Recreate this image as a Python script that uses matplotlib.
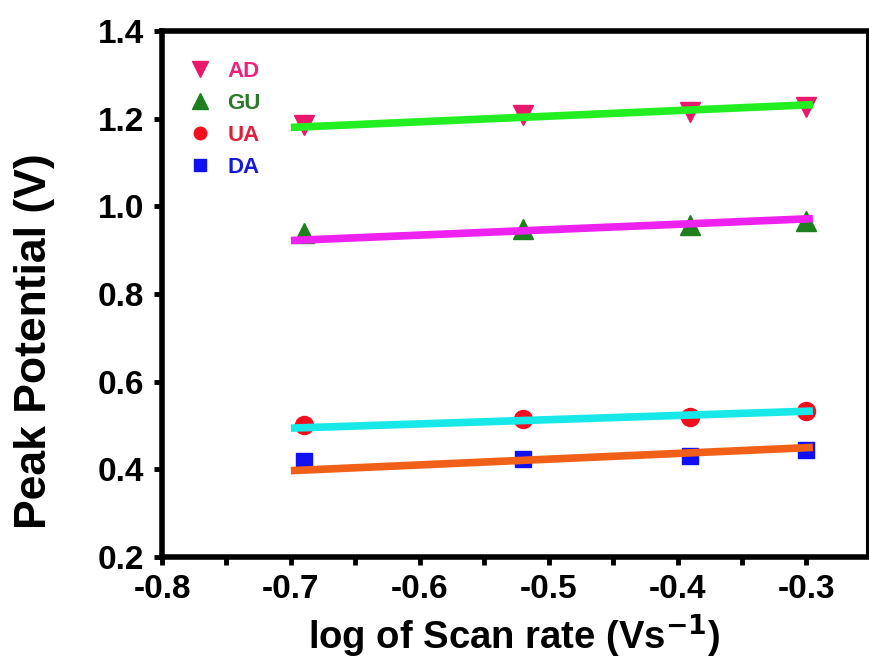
import matplotlib
matplotlib.use("Agg")
import matplotlib.pyplot as plt
from matplotlib.lines import Line2D
from matplotlib.ticker import MultipleLocator

plt.rcParams['font.family'] = ['Liberation Sans', 'DejaVu Sans']
plt.rcParams['font.weight'] = 'bold'
plt.rcParams['mathtext.default'] = 'bf'

# data
log_scan_rate = [-0.69, -0.52, -0.39, -0.30]
AD = [1.186, 1.209, 1.216, 1.226]
GU = [0.940, 0.949, 0.958, 0.966]
UA = [0.501, 0.514, 0.520, 0.532]
DA = [0.418, 0.424, 0.431, 0.443]

# fitted lines (end points)
fit_x = [-0.70, -0.295]
fit_AD = [1.180, 1.232]
fit_GU = [0.922, 0.972]
fit_UA = [0.494, 0.533]
fit_DA = [0.397, 0.450]

series_names = ['AD', 'GU', 'UA', 'DA']
x_tick_labels = ['-0.8', '-0.7', '-0.6', '-0.5', '-0.4', '-0.3']
y_tick_labels = ['0.2', '0.4', '0.6', '0.8', '1.0', '1.2', '1.4']

marker_colors = ['#E8196A', '#1E7F1E', '#F01020', '#1010F0']
text_colors = ['#F0207E', '#2A7A2A', '#E0203A', '#1818D8']
line_colors = ['#22EE22', '#EE22EE', '#18E8E8', '#F06018']
markers = ['v', '^', 'o', 's']
msizes = [15, 15, 13, 11]
leg_msizes = [11, 11, 9, 8]

fig = plt.figure(figsize=(8.7, 6.64), dpi=100)
ax = fig.add_axes([162/870, 107/664, 705/870, 526/664])

series = [AD, GU, UA, DA]
fits = [fit_AD, fit_GU, fit_UA, fit_DA]
for vals, mk, mc, ms in zip(series, markers, marker_colors, msizes):
    ax.plot(log_scan_rate, vals, linestyle='none', marker=mk, color=mc,
            markersize=ms, zorder=2)
for fv, lc in zip(fits, line_colors):
    ax.plot(fit_x, fv, color=lc, linewidth=5.5, solid_capstyle='butt', zorder=3)

ax.set_xlim(-0.8, -0.253)
ax.set_ylim(0.2, 1.4)
x_ticks = [float(t) for t in x_tick_labels]
y_ticks = [float(t) for t in y_tick_labels]
ax.set_xticks(x_ticks)
ax.set_xticklabels(x_tick_labels)
ax.set_yticks(y_ticks)
ax.set_yticklabels(y_tick_labels)
ax.xaxis.set_minor_locator(MultipleLocator(0.05))
ax.tick_params(axis='both', which='major', direction='out', length=6, width=3.5,
               labelsize=24)
ax.tick_params(axis='x', which='major', pad=6)
ax.tick_params(axis='y', which='major', pad=7)
ax.tick_params(axis='x', which='minor', direction='out', length=6, width=3.5)
for lab in ax.get_xticklabels() + ax.get_yticklabels():
    lab.set_fontweight('bold')

for side, lw in [('left', 4), ('bottom', 4), ('top', 4), ('right', 2.2)]:
    ax.spines[side].set_linewidth(lw)

ax.set_xlabel('log of Scan rate (Vs$^{-1}$)', fontsize=27.5, fontweight='bold')
ax.xaxis.set_label_coords(0.5, -0.104)
ax.set_ylabel('Peak Potential (V)', fontsize=32, fontweight='bold')
ax.yaxis.set_label_coords(-0.152, 0.41)

handles = [Line2D([], [], linestyle='none', marker=mk, color=mc, markersize=ms)
           for mk, mc, ms in zip(markers, marker_colors, leg_msizes)]
leg = ax.legend(handles, series_names, loc='upper left',
                bbox_to_anchor=(0.025, 0.96), frameon=False,
                prop={'size': 16, 'weight': 'bold'}, labelcolor=text_colors,
                handlelength=1.0, handletextpad=0.75, labelspacing=0.5,
                borderaxespad=0.0)

fig.savefig('out.png', dpi=100)
